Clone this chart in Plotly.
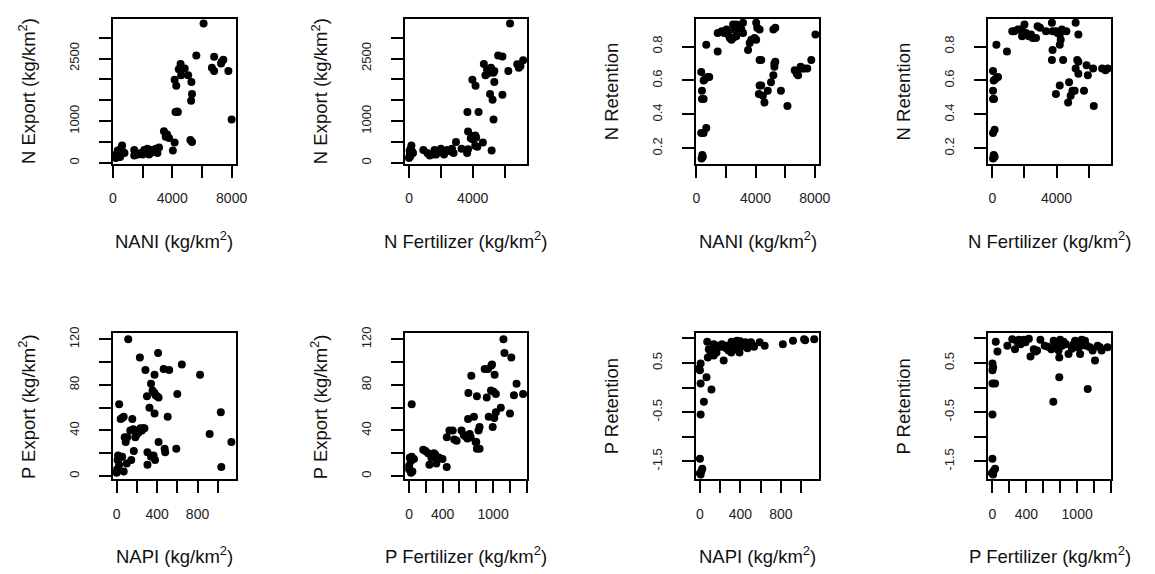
import plotly.graph_objects as go

# ---------------- data ----------------
# Panel 1: NANI vs N Export
p1_x = [6110, 5620, 6820, 7440, 7290, 6670, 6820, 7780, 4560, 4440, 4840, 4600, 5070, 5290, 4160, 4270,
        5330, 5270, 4220, 4380, 8000, 3440, 3560, 3780, 3650, 4160, 4040, 5220, 5330, 200, 340, 440, 560,
        620, 330, 670, 490, 780, 220, 1440, 1440, 1670, 2000, 2220, 2330, 2440, 2560, 2780, 2890, 3000,
        3110, 1890, 2110, 400, 2600, 4330, 7330]
p1_y = [3340, 2570, 2540, 2470, 2380, 2280, 2200, 2200, 2370, 2240, 2260, 2100, 2100, 1940, 1990, 1850,
        1650, 1490, 1220, 1220, 1040, 760, 630, 600, 680, 490, 300, 550, 500, 120, 210, 280, 350,
        420, 300, 270, 140, 240, 200, 310, 180, 200, 200, 280, 340, 200, 310, 280, 340, 240,
        370, 240, 310, 160, 250, 1230, 2420]

# Panel 2: N Fertilizer vs N Export
p2_x = [6350, 5600, 5870, 6240, 6800, 7000, 7170, 6900, 4700, 4900, 5050, 5150, 5360, 4800, 4950, 5300,
        3980, 4180, 5360, 5090, 5250, 5870, 3670, 4370, 5310, 3710, 3880, 3980, 4160, 4220, 4020, 4640,
        5190, 4160, 4290, 3710, 3650, 3300, 2950, 0, 60, 100, 120, 150, 40, 200, 20, 250, 80, 900,
        1300, 1500, 1700, 1900, 2000, 2200, 2400, 2600, 2700, 2800, 1150, 1600, 2100, 80]
p2_y = [3340, 2570, 2550, 2200, 2360, 2320, 2460, 2280, 2370, 2240, 2240, 2280, 2200, 2100, 2140, 2160,
        1990, 1850, 1940, 1650, 1510, 1630, 1220, 1220, 1040, 750, 590, 640, 660, 610, 560, 490,
        300, 410, 390, 330, 240, 340, 500, 120, 210, 280, 350, 420, 300, 270, 140, 240, 200, 310,
        180, 200, 200, 280, 340, 200, 310, 280, 340, 240, 240, 310, 250, 160]

# Panel 3: NANI vs N Retention
p3_x = [350, 400, 440, 330, 490, 670, 380, 490, 380, 330, 490, 600, 780, 870, 670, 1440, 1440, 1710,
        1880, 2040, 2150, 2260, 2370, 2480, 2700, 2550, 2820, 3040, 2930, 3150, 2480, 2700, 3150, 3490,
        3600, 3710, 3930, 4040, 4040, 4110, 4270, 4270, 4380, 4270, 4380, 4220, 4490, 4600, 4820, 5040,
        5200, 5270, 5330, 5270, 5710, 6150, 5200, 5330, 6640, 6780, 6870, 7040, 7160, 7270, 7490, 7760, 8040]
p3_y = [0.14, 0.16, 0.15, 0.29, 0.29, 0.32, 0.49, 0.49, 0.54, 0.65, 0.60, 0.61, 0.62, 0.62, 0.81, 0.77,
        0.88, 0.89, 0.88, 0.90, 0.87, 0.85, 0.84, 0.85, 0.86, 0.90, 0.92, 0.90, 0.89, 0.88, 0.93, 0.93,
        0.94, 0.78, 0.82, 0.84, 0.85, 0.84, 0.94, 0.91, 0.90, 0.72, 0.72, 0.57, 0.57, 0.52, 0.51, 0.47,
        0.54, 0.59, 0.63, 0.68, 0.71, 0.70, 0.54, 0.45, 0.90, 0.91, 0.66, 0.64, 0.63, 0.68, 0.67, 0.67,
        0.67, 0.72, 0.87]

# Panel 4: N Fertilizer vs N Retention
p4_x = [40, 140, 80, 40, 140, 40, 100, 40, 40, 80, 200, 350, 250, 906, 1240, 1380, 1590, 1730, 1900,
        2000, 1850, 2100, 2270, 2410, 2510, 2720, 2820, 2970, 3340, 3710, 3750, 3710, 3750, 3960, 4060,
        4200, 4200, 4260, 4330, 4610, 4410, 4200, 3960, 4780, 4880, 4990, 5130, 5190, 5290, 5360, 4720,
        5710, 6320, 5360, 5950, 5870, 6280, 6840, 7050, 7190, 5190, 5360]
p4_y = [0.14, 0.15, 0.16, 0.29, 0.31, 0.49, 0.49, 0.54, 0.655, 0.60, 0.61, 0.62, 0.81, 0.77, 0.89,
        0.89, 0.90, 0.90, 0.89, 0.93, 0.86, 0.88, 0.86, 0.87, 0.85, 0.85, 0.92, 0.91, 0.89, 0.94, 0.78,
        0.72, 0.89, 0.89, 0.88, 0.87, 0.81, 0.84, 0.90, 0.89, 0.72, 0.57, 0.52, 0.59, 0.51, 0.54, 0.54,
        0.67, 0.72, 0.71, 0.47, 0.54, 0.45, 0.64, 0.63, 0.69, 0.67, 0.67, 0.66, 0.67, 0.94, 0.87]

# Panel 5: NAPI vs P Export
p5_x = [115, 230, 410, 645, 825, 285, 375, 465, 520, 340, 355, 375, 385, 400, 415, 300, 600, 325, 375,
        505, 1030, 25, 40, 55, 70, 155, 135, 165, 185, 195, 215, 235, 250, 260, 275, 220, 90, 105, 80,
        170, 145, 100, 15, 25, 5, 55, 70, 0, 10, 30, 305, 340, 365, 380, 305, 415, 475, 480, 590, 920,
        1035, 1135]
p5_y = [120, 104, 108, 98, 89, 93, 89, 94, 93, 81, 75, 73, 71, 70, 69, 70, 72, 60, 55, 52, 56, 63, 50,
        51, 52, 50, 40, 41, 34, 36, 38, 42, 40, 42, 42, 40, 30, 34, 34, 22, 14, 11, 18, 10, 6, 17, 4,
        3, 14, 16, 21, 17, 18, 14, 10, 30, 24, 21, 24, 37, 8, 30]

# Panel 6: P Fertilizer vs P Export
p6_x = [31, 8, 20, 31, 58, 0, 12, 23, 39, 0, 168, 195, 226, 242, 265, 296, 312, 324, 339, 359, 398, 448,
        449, 480, 519, 538, 566, 624, 651, 671, 694, 721, 733, 706, 702, 741, 772, 807, 791, 807, 839,
        827, 839, 800, 900, 940, 979, 987, 1018, 924, 948, 995, 1014, 1033, 975, 1006, 1033, 1092, 1123,
        1135, 1217, 1201, 1248, 1279, 1357]
p6_y = [63, 16, 13, 17, 15, 9, 5, 3, 4, 6, 23, 22, 20, 10, 16, 20, 19, 11, 16, 16, 15, 8, 34, 40, 40,
        32, 31, 40, 36, 35, 33, 37, 34, 73, 50, 88, 52, 70, 30, 24, 24, 40, 43, 30, 94, 94, 97, 98, 89,
        69, 52, 43, 51, 56, 75, 74, 72, 60, 120, 108, 104, 55, 71, 81, 72]

# Panel 7: NAPI vs P Retention
p7_x = [0, 0, 7, 23, 16, 7, 39, 7, 0, 7, -10, 65, 114, 78, 88, 72, 104, 137, 137, 153, 163, 183, 202,
        218, 235, 251, 267, 283, 300, 313, 310, 333, 349, 365, 380, 398, 404, 391, 420, 433, 450, 460,
        470, 488, 505, 520, 535, 590, 640, 820, 920, 1030, 1040, 1130]
p7_y = [-1.45, -1.74, -1.77, -1.65, -1.69, -0.55, -0.29, 0.08, 0.35, 0.49, 0.38, 0.21, -0.04, 0.61,
        0.78, 0.93, 0.73, 0.65, 0.88, 0.78, 0.71, 0.85, 0.83, 0.88, 0.55, 0.81, 0.85, 0.75, 0.84, 0.93,
        0.71, 0.88, 0.78, 0.95, 0.81, 0.94, 0.88, 0.71, 0.84, 0.90, 0.92, 0.85, 0.80, 0.88, 0.92, 0.86,
        0.83, 0.92, 0.85, 0.88, 0.95, 0.98, 0.96, 0.98]

# Panel 8: P Fertilizer vs P Retention
p8_x = [0, -8, 8, 31, 16, 0, 0, 31, 0, 8, 0, 39, 59, 176, 234, 266, 293, 313, 332, 371, 390, 430, 449,
        488, 508, 527, 566, 617, 656, 695, 723, 742, 762, 781, 789, 800, 820, 840, 867, 898, 937, 957,
        976, 996, 1015, 1035, 1054, 1074, 1093, 1113, 1152, 1183, 1211, 1242, 1269, 1289, 1359, 789,
        719, 1125]
p8_y = [-1.45, -1.74, -1.77, -1.65, -1.69, -0.55, 0.08, 0.08, 0.35, 0.41, 0.49, 0.93, 0.73, 0.85, 0.98,
        0.78, 0.93, 0.97, 0.88, 0.97, 0.92, 0.99, 0.63, 0.78, 0.73, 0.75, 0.97, 0.85, 0.83, 0.78, 0.95,
        0.88, 0.81, 0.75, 0.61, 0.97, 0.85, 0.93, 0.88, 0.68, 0.79, 0.88, 0.95, 0.90, 0.81, 0.68, 0.97,
        0.86, 0.95, 0.85, 0.82, 0.75, 0.55, 0.85, 0.82, 0.75, 0.82, 0.21, -0.29, -0.03]

# tick positions (all ticks) and labelled ticks
nani_ticks = [0, 2000, 4000, 6000, 8000]
nani_labels = [0, 4000, 8000]
nfert_ticks = [0, 2000, 4000, 6000]
nfert_labels = [0, 4000]
nexp_ticks = [0, 500, 1000, 1500, 2000, 2500, 3000]
nexp_labels = [0, 1000, 2500]
nret_ticks = [0.2, 0.4, 0.6, 0.8]
nret_labels = [0.2, 0.4, 0.6, 0.8]
napi_ticks = [0, 200, 400, 600, 800, 1000]
napi_labels = [0, 400, 800]
pfert_ticks = [0, 200, 400, 600, 800, 1000, 1200, 1400]
pfert_labels = [0, 400, 1000]
pexp_ticks = [0, 20, 40, 60, 80, 100, 120]
pexp_labels = [0, 40, 80, 120]
pret_ticks = [-1.5, -1.0, -0.5, 0.0, 0.5, 1.0]
pret_labels = [-1.5, -0.5, 0.5]

x_titles = ["NANI (kg/km<sup>2</sup>)", "N Fertilizer (kg/km<sup>2</sup>)",
            "NANI (kg/km<sup>2</sup>)", "N Fertilizer (kg/km<sup>2</sup>)",
            "NAPI (kg/km<sup>2</sup>)", "P Fertilizer (kg/km<sup>2</sup>)",
            "NAPI (kg/km<sup>2</sup>)", "P Fertilizer (kg/km<sup>2</sup>)"]
y_titles = ["N Export (kg/km<sup>2</sup>)", "N Export (kg/km<sup>2</sup>)",
            "N Retention", "N Retention",
            "P Export (kg/km<sup>2</sup>)", "P Export (kg/km<sup>2</sup>)",
            "P Retention", "P Retention"]


def fmt(v):
    if isinstance(v, float) and not v.is_integer():
        return ("%g" % v)
    return str(int(v))


# ---------------- layout geometry ----------------
W, H = 1155, 574
FONT = "Liberation Sans, Arial, sans-serif"
box_x = [(110, 235), (406, 530), (701, 826), (997, 1122)] * 2
box_y = [(12, 159)] * 4 + [(331, 479)] * 4

panels = [
    (p1_x, p1_y, [-20, 8290], [-20, 3450], nani_ticks, nani_labels, nexp_ticks, nexp_labels),
    (p2_x, p2_y, [-270, 7420], [-20, 3450], nfert_ticks, nfert_labels, nexp_ticks, nexp_labels),
    (p3_x, p3_y, [-30, 8300], [0.109, 0.963], nani_ticks, nani_labels, nret_ticks, nret_labels),
    (p4_x, p4_y, [-270, 7420], [0.109, 0.963], nfert_ticks, nfert_labels, nret_ticks, nret_labels),
    (p5_x, p5_y, [-40, 1180], [-2.85, 125.2], napi_ticks, napi_labels, pexp_ticks, pexp_labels),
    (p6_x, p6_y, [-52, 1405], [-2.85, 125.2], pfert_ticks, pfert_labels, pexp_ticks, pexp_labels),
    (p7_x, p7_y, [-40, 1180], [-1.866, 1.1], napi_ticks, napi_labels, pret_ticks, pret_labels),
    (p8_x, p8_y, [-52, 1405], [-1.866, 1.1], pfert_ticks, pfert_labels, pret_ticks, pret_labels),
]

fig = go.Figure()
layout = dict(
    width=W, height=H, margin=dict(l=0, r=0, t=0, b=0),
    paper_bgcolor="white", plot_bgcolor="white", showlegend=False,
    font=dict(family=FONT, color="#111"),
)
annotations = []
for i, (xs, ys, xr, yr, xt, xl, yt, yl) in enumerate(panels):
    n = "" if i == 0 else str(i + 1)
    fig.add_trace(go.Scatter(
        x=xs, y=ys, mode="markers", xaxis="x" + n, yaxis="y" + n,
        marker=dict(color="black", size=8, line=dict(width=0)),
        hoverinfo="x+y",
    ))
    x0, x1 = box_x[i]
    y0, y1 = box_y[i]
    axcommon = dict(showline=True, mirror=True, linecolor="black", linewidth=1.5,
                    ticks="outside", ticklen=12, tickwidth=1.5, tickcolor="black",
                    showgrid=False, zeroline=False, fixedrange=True)
    layout["xaxis" + n] = dict(
        domain=[x0 / W, x1 / W], range=xr, anchor="y" + n,
        tickmode="array", tickvals=xl, ticktext=[fmt(v) for v in xl], ticklabelstandoff=9,
        tickfont=dict(family=FONT, size=14, color="#222"),
        minor=dict(tickmode="array", tickvals=xt, ticks="outside", ticklen=12,
                   tickwidth=1.5, tickcolor="black", showgrid=False),
        **axcommon)
    layout["yaxis" + n] = dict(
        domain=[1 - y1 / H, 1 - y0 / H], range=yr, anchor="x" + n,
        tickmode="array", tickvals=yl, ticktext=[fmt(v) for v in yl],
        tickangle=-90, ticklabelstandoff=15,
        tickfont=dict(family=FONT, size=13, color="#222"),
        minor=dict(tickmode="array", tickvals=yt, ticks="outside", ticklen=12,
                   tickwidth=1.5, tickcolor="black", showgrid=False),
        **axcommon)
    annotations.append(dict(
        text=x_titles[i], xref="paper", yref="paper",
        x=(x0 + x1) / 2 / W, y=1 - (y1 + 77) / H,
        xanchor="center", yanchor="middle", showarrow=False,
        font=dict(family=FONT, size=18.5, color="#111")))
    annotations.append(dict(
        text=y_titles[i], xref="paper", yref="paper",
        x=(x0 - 86) / W, y=1 - (y0 + y1) / 2 / H, textangle=-90,
        xanchor="center", yanchor="middle", showarrow=False,
        font=dict(family=FONT, size=18.5, color="#111")))

layout["annotations"] = annotations
fig.update_layout(**layout)
fig.write_html("out.html")
